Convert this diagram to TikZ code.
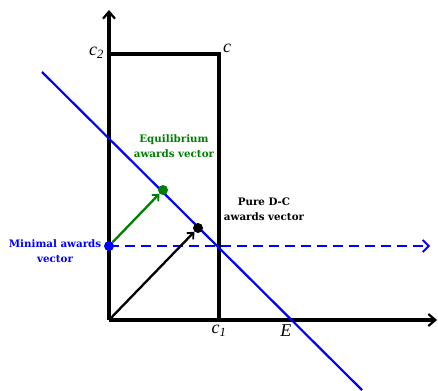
\documentclass[tikz,border=0pt]{standalone}
\usepackage{fontspec}
\setmainfont{DejaVu Serif}
\newfontfamily\lblfont{Liberation Serif}
\usetikzlibrary{arrows.meta}
\definecolor{myblue}{RGB}{0,0,255}
\definecolor{mygreen}{RGB}{0,128,0}
\newcommand{\mlab}[2]{{\lblfont\itshape #1\textsubscript{#2}}}
\begin{document}
\begin{tikzpicture}[x=1pt,y=-1pt,
  axis/.style={line width=3.2pt,-{Straight Barb[length=7pt,width=12pt,line width=2.2pt]}},
  frame/.style={line width=3.2pt},
  lbl/.style={font=\fontsize{10.3}{15.5}\selectfont\bfseries,align=center,inner sep=0pt},
  mlbl/.style={font=\fontsize{18}{20}\selectfont,inner sep=0pt},
  dot/.style={circle,inner sep=0pt,minimum size=10pt}]
\useasboundingbox (0,0) rectangle (438,390);
\coordinate (O) at (109,320);
\coordinate (Ytop) at (109,10);
\coordinate (Xend) at (437,320);
\coordinate (C2) at (109,54);
\coordinate (C) at (219,54);
\coordinate (C1) at (219,320);
\coordinate (L1) at (42,72);
\coordinate (L2) at (362,390);
\coordinate (Dend) at (430,246);
% frame
\draw[frame] (C2) -- (C) -- (C1);
\draw[axis] (O) -- (Ytop);
\draw[axis] (O) -- (Xend);
% blue line
\draw[myblue,line width=2.2pt] (L1) -- (L2);
% dashed
\draw[myblue,line width=2.5pt,dash pattern=on 10pt off 6pt,-{Straight Barb[length=6pt,width=12pt,line width=1.8pt]}] (109,246) -- (Dend);
% dots
\node[dot,fill=myblue] (mind) at (109,246) {};
\node[dot,fill=mygreen] (eqd) at (163,190) {};
\node[dot,fill=black] (pdc) at (198,228) {};
\draw[mygreen,line width=2.3pt,-{Straight Barb[length=5pt,width=9pt,line width=1.8pt]}] (mind) -- (eqd);
\draw[black,line width=2.3pt,-{Straight Barb[length=5pt,width=9pt,line width=1.8pt]}] (O) -- (pdc);
% labels
\node[mlbl,anchor=east] (lc2) at (104,53) {\mlab{c}{2}};
\node[mlbl,anchor=west] (lc) at (223,50) {\mlab{c}{}};
\node[mlbl] (lc1) at (219,331) {\mlab{c}{1}};
\node[mlbl] (lE) at (286,332) {\mlab{E}{}};
\node[lbl,text=mygreen] (teq) at (174,146) {Equilibrium\\awards vector};
\node[lbl,text=myblue] (tmin) at (55,251) {Minimal awards\\vector};
\node[lbl,text=black] (tpdc) at (264,209) {Pure D-C\\awards vector};
\end{tikzpicture}
\end{document}
